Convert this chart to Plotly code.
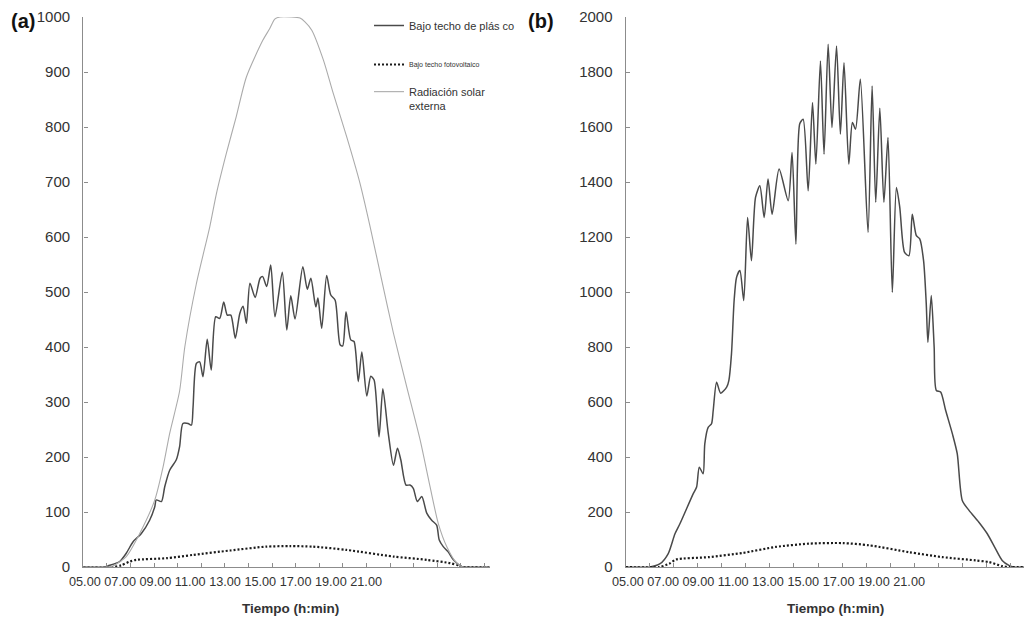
import plotly.graph_objects as go

# ---------------- data (time in hours of the day, values in W/m2) ----------------
tick_labels = ["05.00", "07.00", "09.00", "11.00", "13.00", "15.00", "17.00", "19.00", "21.00"]
series_names = ["Bajo techo de plás co", "Bajo techo fotovoltaico", "Radiación solar<br>externa"]

# panel (a)
t_a_plastico = [5.0, 5.9, 6.05, 6.54, 6.82, 7.11, 7.46, 7.81, 8.03, 8.09, 8.31, 8.45, 8.66, 8.94, 9.08,
                9.22, 9.44, 9.58, 9.65, 9.79, 9.93, 10.07, 10.25, 10.42, 10.61, 10.78, 10.95, 11.10,
                11.25, 11.44, 11.63, 11.77, 11.91, 12.06, 12.28, 12.49, 12.60, 12.77, 12.94, 13.12,
                13.43, 13.62, 13.79, 13.97, 14.30, 14.49, 14.64, 14.85, 14.94, 15.10, 15.31, 15.48,
                15.67, 15.88, 15.99, 16.13, 16.33, 16.47, 16.65, 16.80, 17.01, 17.18, 17.32, 17.53,
                17.69, 17.92, 18.14, 18.31, 18.45, 18.67, 18.84, 18.98, 19.15, 19.34, 19.55, 19.76,
                19.97, 20.08, 20.25, 20.45, 20.68, 20.96, 21.05, 22.2]
v_a_plastico = [0, 0, 2, 10, 25, 46, 61, 85, 110, 122, 119, 146, 176, 195, 219,
                261, 261, 258, 291, 370, 373, 346, 414, 358, 455, 452, 482, 458,
                458, 416, 461, 474, 443, 516, 490, 525, 528, 510, 549, 455,
                536, 431, 493, 451, 546, 505, 525, 473, 489, 434, 530, 495,
                485, 404, 402, 464, 413, 410, 337, 391, 311, 347, 340, 237,
                324, 243, 185, 216, 195, 149, 149, 143, 119, 128, 98, 85,
                76, 49, 37, 28, 13, 2, 0, 0]

t_a_fv = [5.0, 6.26, 6.60, 6.98, 7.25, 8.53, 9.65, 11.22, 12.74, 13.76, 14.73, 16.16, 18.14,
          19.55, 20.54, 20.88, 21.05, 22.2]
v_a_fv = [0, 0, 3, 10, 13, 16, 22, 30, 37, 38, 37, 31, 19, 13, 7, 3, 0, 0]

t_a_ext = [5.0, 6.0, 6.26, 6.82, 7.39, 8.03, 8.38, 8.66, 9.08, 9.30, 9.79, 10.36, 10.64, 11.06,
           11.48, 11.91, 12.61, 12.90, 13.11, 13.33, 13.80, 14.18, 14.39, 14.68, 15.17, 15.59,
           16.16, 16.72, 17.15, 17.64, 18.14, 18.70, 19.27, 19.69, 20.04, 20.40, 20.82, 21.05, 22.2]
v_a_ext = [0, 0, 2, 19, 61, 122, 182, 243, 320, 400, 515, 619, 679, 752,
           819, 891, 958, 979, 996, 1000, 1000, 998, 991, 976, 922, 861,
           782, 698, 619, 522, 425, 328, 231, 146, 79, 37, 7, 0, 0]

# panel (b)
t_b_plastico = [5.0, 6.01, 6.43, 6.77, 7.05, 7.26, 7.81, 7.95, 8.06, 8.22, 8.29, 8.43, 8.57, 8.64,
                8.78, 8.95, 9.20, 9.29, 9.40, 9.51, 9.61, 9.75, 9.91, 10.07, 10.23, 10.40, 10.58,
                10.76, 10.92, 11.09, 11.38, 11.76, 11.92, 12.08, 12.24, 12.38, 12.59, 12.77, 12.91,
                13.10, 13.25, 13.42, 13.58, 13.77, 13.93, 14.08, 14.28, 14.43, 14.56, 14.76, 15.08,
                15.25, 15.40, 15.57, 15.74, 15.91, 16.09, 16.26, 16.40, 16.60, 16.78, 16.92, 17.09,
                17.23, 17.39, 17.50, 17.57, 17.71, 17.83, 17.92, 18.10, 18.31, 18.59, 18.79, 19.00,
                19.28, 19.69, 20.04, 20.38, 20.66, 20.94, 21.14, 21.9]
v_b_plastico = [0, 0, 12, 49, 121, 158, 267, 291, 363, 339, 448, 508, 521, 569,
                672, 632, 654, 678, 775, 969, 1053, 1078, 969, 1271, 1114, 1344, 1386,
                1271, 1411, 1283, 1447, 1332, 1507, 1174, 1612, 1628, 1368, 1689, 1465,
                1840, 1501, 1901, 1598, 1895, 1574, 1834, 1465, 1616, 1592, 1774, 1217,
                1749, 1326, 1668, 1326, 1562, 999, 1380, 1308, 1144, 1132, 1283, 1205,
                1193, 1114, 960, 817, 987, 800, 642, 636, 569, 484, 412, 242,
                206, 163, 121, 67, 24, 6, 0, 0]

t_b_fv = [5.0, 6.40, 6.81, 7.09, 8.47, 9.86, 11.24, 12.63, 14.02, 15.12, 16.78, 18.17, 19.55,
          20.11, 20.66, 20.94, 21.9]
v_b_fv = [0, 0, 12, 27, 36, 51, 73, 85, 87, 79, 54, 36, 24, 18, 3, 0, 0]

# ---------------- figure ----------------
# the page body has an 8 px default margin, so the figure is 8 px smaller
OFF = 8
W, H = 1032 - OFF, 617 - OFF


def px(x):
    return (x - OFF) / W


def py(y):
    return 1 - (y - OFF) / H


FONT = "Liberation Sans, Arial, sans-serif"
TXT = "#333333"
AXC = "#8c8c8c"

dark = dict(color="#4a4a4a", width=1.5, shape="spline", smoothing=0.7)
dotted = dict(color="#1a1a1a", width=2.2, dash="2px,2px", shape="spline", smoothing=0.7)
light = dict(color="#ababab", width=1.1, shape="spline", smoothing=0.7)

fig = go.Figure()
fig.add_trace(go.Scatter(x=t_a_plastico, y=v_a_plastico, mode="lines", line=dark,
                         name=series_names[0], legend="legend", xaxis="x", yaxis="y"))
fig.add_trace(go.Scatter(x=t_a_fv, y=v_a_fv, mode="lines", line=dotted,
                         name=series_names[1], legend="legend2", xaxis="x", yaxis="y"))
fig.add_trace(go.Scatter(x=t_a_ext, y=v_a_ext, mode="lines", line=light,
                         name=series_names[2], legend="legend3", xaxis="x", yaxis="y"))
fig.add_trace(go.Scatter(x=t_b_plastico, y=v_b_plastico, mode="lines", line=dark,
                         showlegend=False, xaxis="x2", yaxis="y2"))
fig.add_trace(go.Scatter(x=t_b_fv, y=v_b_fv, mode="lines", line=dotted,
                         showlegend=False, xaxis="x2", yaxis="y2"))

xa_dom = [px(83.3), px(490)]
xb_dom = [px(625.7), 1.0]
y_dom = [py(567), py(17)]

common_x = dict(showline=True, linecolor=AXC, linewidth=1.4, showgrid=False, zeroline=False,
                ticks="inside", ticklen=4, tickcolor=AXC, tickwidth=1, dtick=1, tick0=5,
                showticklabels=False, automargin=False)
common_y = dict(showline=True, linecolor=AXC, linewidth=1.4, showgrid=False, zeroline=False,
                ticks="inside", ticklen=4, tickcolor=AXC, tickwidth=1, automargin=False,
                tickfont=dict(family=FONT, size=15, color=TXT), ticklabelstandoff=9)

fig.update_layout(
    template="none",
    width=W, height=H, margin=dict(l=0, r=0, t=0, b=0, pad=0, autoexpand=False),
    paper_bgcolor="white", plot_bgcolor="white",
    font=dict(family=FONT, color=TXT),
    xaxis=dict(domain=xa_dom, range=[5, 22.23], anchor="y", **common_x),
    yaxis=dict(domain=y_dom, range=[0, 1000], dtick=100, anchor="x", **common_y),
    xaxis2=dict(domain=xb_dom, range=[5, 21.9], anchor="y2", **common_x),
    yaxis2=dict(domain=y_dom, range=[0, 2000], dtick=200, anchor="x2", **common_y),
    legend=dict(x=px(369), y=py(11), xanchor="left", yanchor="top",
                font=dict(family=FONT, size=11, color=TXT), bgcolor="rgba(0,0,0,0)"),
    legend2=dict(x=px(369), y=py(50), xanchor="left", yanchor="top",
                 font=dict(family=FONT, size=7, color=TXT), bgcolor="rgba(0,0,0,0)"),
    legend3=dict(x=px(369), y=py(78), xanchor="left", yanchor="top", valign="top",
                 font=dict(family=FONT, size=11, color=TXT), bgcolor="rgba(0,0,0,0)"),
)

label_text = " ".join(tick_labels)
ann = [
    dict(text="<b>(a)</b>", x=px(9), y=py(8), xanchor="left", yanchor="top",
         font=dict(family=FONT, size=20, color="#111111")),
    dict(text="<b>(b)</b>", x=px(526), y=py(8), xanchor="left", yanchor="top",
         font=dict(family=FONT, size=20, color="#111111")),
    dict(text=label_text, x=px(67), y=py(582), xanchor="left", yanchor="middle",
         font=dict(family=FONT, size=12.7, color=TXT)),
    dict(text=label_text, x=px(610), y=py(582), xanchor="left", yanchor="middle",
         font=dict(family=FONT, size=12.7, color=TXT)),
    dict(text="<b>Tiempo (h:min)</b>", x=px(290), y=py(608), xanchor="center", yanchor="middle",
         font=dict(family=FONT, size=13.5, color=TXT)),
    dict(text="<b>Tiempo (h:min)</b>", x=px(835), y=py(608), xanchor="center", yanchor="middle",
         font=dict(family=FONT, size=13.5, color=TXT)),
]
for a in ann:
    a.update(xref="paper", yref="paper", showarrow=False)
fig.update_layout(annotations=ann)

fig.write_html("out.html")
